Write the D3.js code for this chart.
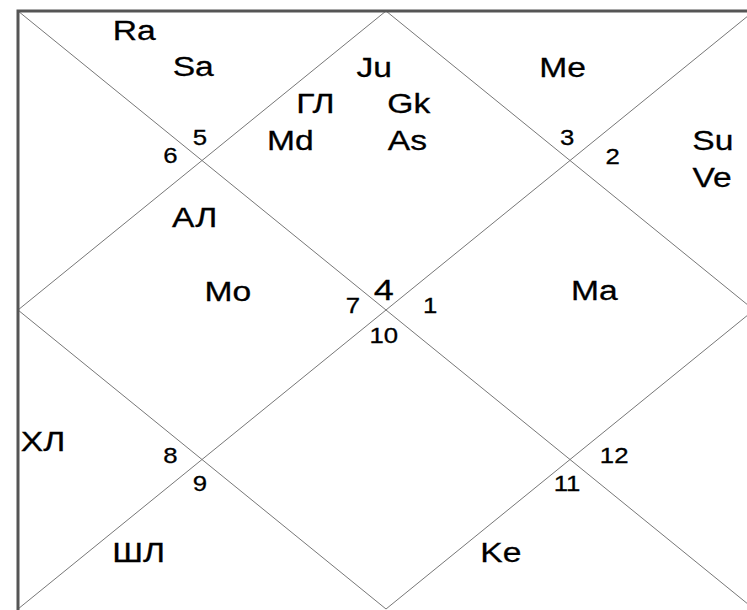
<!DOCTYPE html>
<html>
<head>
<meta charset="utf-8">
<script src="https://cdn.jsdelivr.net/npm/d3@7"></script>
<style>
  html, body { margin: 0; padding: 0; background: #fff; }
  svg { display: block; }
  text { font-family: "Liberation Sans", Arial, sans-serif; fill: #000; }
</style>
</head>
<body>
<div id="chart"></div>
<script>
// House order: 1..12 (counter-clockwise from top diamond)
const houseIds = [1, 2, 3, 4, 5, 6, 7, 8, 9, 10, 11, 12];
// Sign number shown in each house
const signNumbers = [4, 5, 6, 7, 8, 9, 10, 11, 12, 1, 2, 3];
// Bodies placed in each house
const planetNames = [
  ["Ju", "ГЛ", "Gk", "Md", "As"],
  ["Ra", "Sa"],
  [],
  ["АЛ", "Mo"],
  ["ХЛ"],
  ["ШЛ"],
  [],
  ["Ke"],
  [],
  ["Ma"],
  ["Su", "Ve"],
  ["Me"]
];

// ---- layout (unit square coordinates) ----
const W = 747, H = 610;
const x = d3.scaleLinear().domain([0, 1]).range([18, 754]);
const y = d3.scaleLinear().domain([0, 1]).range([11, 609]);

const signSlots = [
  [0.497, 0.483], [0.247, 0.224], [0.207, 0.254], [0.455, 0.505],
  [0.207, 0.756], [0.247, 0.803], [0.497, 0.555], [0.746, 0.803],
  [0.810, 0.756], [0.560, 0.505], [0.808, 0.256], [0.746, 0.224]
];
const planetSlots = [
  [[0.484, 0.110], [0.404, 0.171], [0.531, 0.171], [0.370, 0.232], [0.529, 0.232]],
  [[0.158, 0.0485], [0.238, 0.109]],
  [],
  [[0.240, 0.361], [0.285, 0.485]],
  [[0.034, 0.736]],
  [[0.164, 0.921]],
  [],
  [[0.656, 0.921]],
  [],
  [[0.783, 0.483]],
  [[0.944, 0.232], [0.943, 0.294]],
  [[0.740, 0.110]]
];

const svg = d3.select("#chart").append("svg")
  .attr("width", W).attr("height", H);

svg.append("rect").attr("width", W).attr("height", H).attr("fill", "#fff");

// inner lines: two diagonals + diamond
const segs = [
  [[0, 0], [1, 1]], [[1, 0], [0, 1]],
  [[0.5, 0], [1, 0.5]], [[1, 0.5], [0.5, 1]],
  [[0.5, 1], [0, 0.5]], [[0, 0.5], [0.5, 0]]
];
svg.append("g").selectAll("line").data(segs).join("line")
  .attr("x1", d => x(d[0][0])).attr("y1", d => y(d[0][1]))
  .attr("x2", d => x(d[1][0])).attr("y2", d => y(d[1][1]))
  .attr("stroke", "#777").attr("stroke-width", 1);

// outer frame (right and bottom edges fall outside the view)
svg.append("rect")
  .attr("x", x(0)).attr("y", y(0))
  .attr("width", x(1) - x(0)).attr("height", y(1) - y(0) + 4)
  .attr("fill", "none").attr("stroke", "#555").attr("stroke-width", 3);

const SX = 1.2;

// sign numbers
svg.append("g").selectAll("text")
  .data(houseIds.map((h, i) => ({ house: h, sign: signNumbers[i], pos: signSlots[i] })))
  .join("text")
  .attr("text-anchor", "middle")
  .attr("transform", d => `translate(${x(d.pos[0])},${y(d.pos[1])}) scale(${d.house === 1 ? SX : 1.12},1)`)
  .attr("font-size", d => d.house === 1 ? 30 : 23)
  .attr("stroke", "#000").attr("stroke-width", 0.3)
  .text(d => d.sign);

// planets
const planetData = [];
planetNames.forEach((list, i) => list.forEach((p, j) => planetData.push({ name: p, pos: planetSlots[i][j] })));
svg.append("g").selectAll("text")
  .data(planetData)
  .join("text")
  .attr("text-anchor", "middle")
  .attr("transform", d => `translate(${x(d.pos[0])},${y(d.pos[1])}) scale(${SX},1)`)
  .attr("font-size", 28)
  .attr("stroke", "#000").attr("stroke-width", 0.3)
  .text(d => d.name);
</script>
</body>
</html>
